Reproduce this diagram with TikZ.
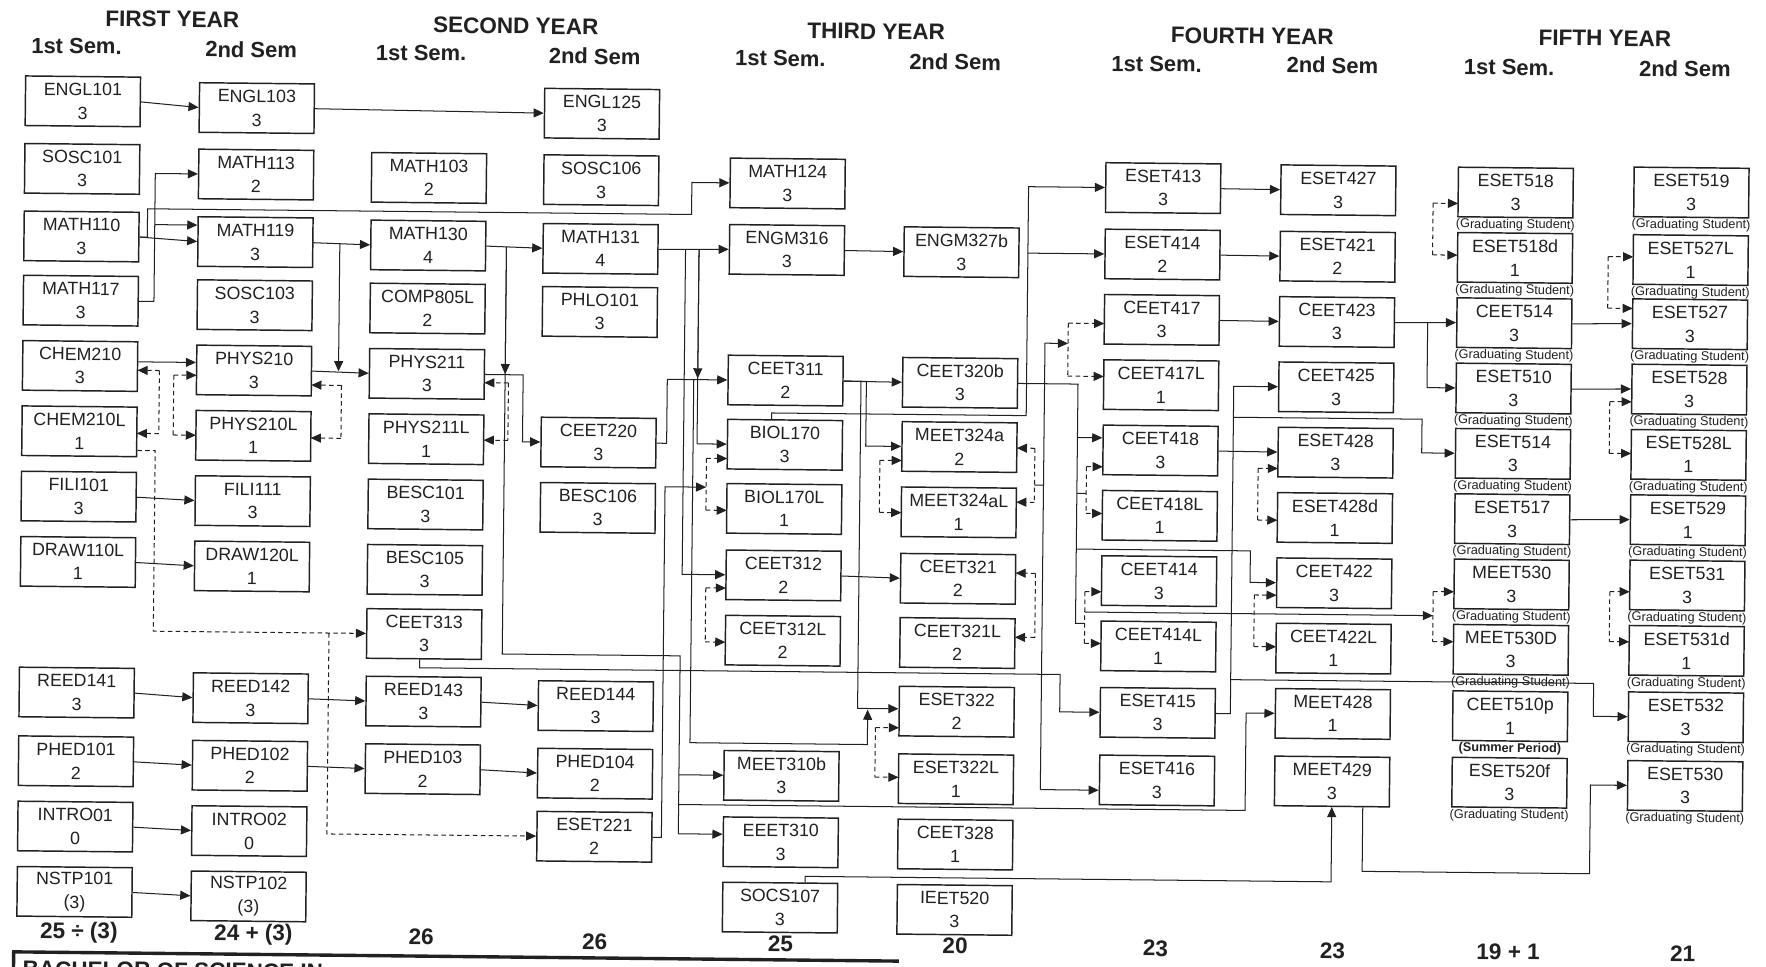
\documentclass[tikz,border=0pt]{standalone}
\usepackage{fontspec}
\setmainfont{Liberation Sans}
\usetikzlibrary{arrows.meta}
\definecolor{ink}{gray}{0.13}
\newcommand\brk[4]{%
  \draw[dln] (#1,#2) -- (#1,#3);
  \draw[darr] (#1,#2) -- (#4,#2);
  \draw[darr] (#1,#3) -- (#4,#3);}
\newcommand\crs[4]{\node[crsbox] (#1) at (#2,#3) {#1\\#4};}
\newcommand\crsg[5]{\node[crsbox] (#1) at (#2,#3) {#1\\#4};
  \node[sublbl] (#1-s) at (#2,#3+29) {#5};}
\begin{document}
\begin{tikzpicture}[x=1pt,y=-1pt,
  crsbox/.style={draw=ink, line width=1.3pt, minimum width=102pt, minimum height=44pt, inner sep=0pt, align=center, text=ink, font=\fontsize{15.8}{21}\selectfont},
  sublbl/.style={text=ink, inner sep=0pt, font=\fontsize{11.3}{13}\selectfont},
  sublblb/.style={text=ink, inner sep=0pt, font=\fontsize{11.3}{13}\selectfont\bfseries},
  yr/.style={text=ink, inner sep=0pt, font=\fontsize{20}{24}\selectfont\bfseries},
  sem/.style={text=ink, inner sep=0pt, font=\fontsize{19.5}{23}\selectfont\bfseries},
  tot/.style={text=ink, inner sep=0pt, font=\fontsize{20}{24}\selectfont\bfseries},
  ln/.style={draw=ink, line width=0.9pt},
  arr/.style={ln, -{Triangle[length=9pt,width=8pt]}},
  dln/.style={ln, dash pattern=on 4pt off 3pt},
  darr/.style={arr, dash pattern=on 4pt off 3pt}]
\useasboundingbox (0,0) rectangle (1568,858);
\clip (0,0) rectangle (1568,858);
\fill[white] (0,0) rectangle (1568,858);
\begin{scope}[rotate=-0.6, transform shape]
% headers
\node[yr] (hy1) at (153.2,15.4) {FIRST YEAR};
\node[sem] (h11) at (68.4,40.3) {1st Sem.};
\node[sem] (h12) at (223.5,41.7) {2nd Sem};
\node[yr] (hy2) at (458.2,18.2) {SECOND YEAR};
\node[sem] (h21) at (374.5,43.1) {1st Sem.};
\node[sem] (h22) at (528.5,44.5) {2nd Sem};
\node[yr] (hy3) at (778.3,19.8) {THIRD YEAR};
\node[sem] (h31) at (693.5,44.7) {1st Sem.};
\node[sem] (h32) at (848.6,46.1) {2nd Sem};
\node[yr] (hy4) at (1112.3,20.3) {FOURTH YEAR};
\node[sem] (h41) at (1027.6,46.2) {1st Sem.};
\node[sem] (h42) at (1183.6,45.6) {2nd Sem};
\node[yr] (hy5) at (1425.4,19) {FIFTH YEAR};
\node[sem] (h51) at (1340.6,45.9) {1st Sem.};
\node[sem] (h52) at (1496.6,45.3) {2nd Sem};
% column 1
\crs{ENGL101}{74.5}{89.2}{3}
\crs{SOSC101}{74.5}{149.2}{3}
\crs{MATH110}{74.5}{209.2}{3}
\crs{MATH117}{74.5}{266.2}{3}
\crs{CHEM210}{74.5}{324.2}{3}
\crs{CHEM210L}{74.5}{382.2}{1}
\crs{FILI101}{74.5}{440.2}{3}
\crs{DRAW110L}{74.5}{498.2}{1}
\crs{REED141}{74.5}{614.2}{3}
\crs{PHED101}{74.5}{675.2}{2}
\crs{INTRO01}{74.5}{733.2}{0}
\crs{NSTP101}{74.5}{791.2}{(3)}
% column 2
\crs{ENGL103}{229}{93.6}{3}
\crs{MATH113}{229}{152.6}{2}
\crs{MATH119}{229}{212.6}{3}
\crs{SOSC103}{229}{268.6}{3}
\crs{PHYS210}{229}{326.6}{3}
\crs{PHYS210L}{229}{384.6}{1}
\crs{FILI111}{229}{442.6}{3}
\crs{DRAW120L}{229}{500.6}{1}
\crs{REED142}{229}{617.6}{3}
\crs{PHED102}{229}{677.6}{2}
\crs{INTRO02}{229}{735.6}{0}
\crs{NSTP102}{229}{793.6}{(3)}
% column 3
\crs{MATH103}{382.5}{154}{2}
\crs{MATH130}{382.5}{214}{4}
\crs{COMP805L}{382.5}{270}{2}
\crs{PHYS211}{382.5}{328}{3}
\crs{PHYS211L}{382.5}{386}{1}
\crs{BESC101}{382.5}{444}{3}
\crs{BESC105}{382.5}{502}{3}
\crs{CEET313}{382.5}{559}{3}
\crs{REED143}{382.5}{619}{3}
\crs{PHED103}{382.5}{679}{2}
% column 4
\crs{ENGL125}{535.5}{95.4}{3}
\crs{SOSC106}{535.5}{154.4}{3}
\crs{MATH131}{535.5}{215.4}{4}
\crs{PHLO101}{535.5}{271.4}{3}
\crs{CEET220}{535.5}{387.4}{3}
\crs{BESC106}{535.5}{445.4}{3}
\crs{REED144}{535.5}{621.4}{3}
\crs{PHED104}{535.5}{681.4}{2}
\crs{ESET221}{535.5}{737.4}{2}
% column 5
\crs{MATH124}{701}{155.6}{3}
\crs{ENGM316}{701}{214.6}{3}
\crs{CEET311}{701}{330.6}{2}
\crs{BIOL170}{701}{387.6}{3}
\crs{BIOL170L}{701}{444.6}{1}
\crs{CEET312}{701}{503.6}{2}
\crs{CEET312L}{701}{561.6}{2}
\crs{MEET310b}{701}{681.6}{3}
\crs{EEET310}{701}{740.6}{3}
\crs{SOCS107}{701}{798.6}{3}
% column 6
\crs{ENGM327b}{856}{215}{3}
\crs{CEET320b}{856}{331}{3}
\crs{MEET324a}{856}{388}{2}
\crs{MEET324aL}{856}{446}{1}
\crs{CEET321}{856}{505}{2}
\crs{CEET321L}{856}{562}{2}
\crs{ESET322}{856}{623}{2}
\crs{ESET322L}{856}{683}{1}
\crs{CEET328}{856}{741}{1}
\crs{IEET520}{856}{799}{3}
% column 7
\crs{ESET413}{1034.5}{156.2}{3}
\crs{ESET414}{1034.5}{215.2}{2}
\crs{CEET417}{1034.5}{273.2}{3}
\crs{CEET417L}{1034.5}{331.2}{1}
\crs{CEET418}{1034.5}{389.2}{3}
\crs{CEET418L}{1034.5}{447.2}{1}
\crs{CEET414}{1034.5}{505.2}{3}
\crs{CEET414L}{1034.5}{563.2}{1}
\crs{ESET415}{1034.5}{622.2}{3}
\crs{ESET416}{1034.5}{682.2}{3}
% column 8
\crs{ESET427}{1190}{156.5}{3}
\crs{ESET421}{1190}{215.5}{2}
\crs{CEET423}{1190}{273.5}{3}
\crs{CEET425}{1190}{331.5}{3}
\crs{ESET428}{1190}{389.5}{3}
\crs{ESET428d}{1190}{447.5}{1}
\crs{CEET422}{1190}{505.5}{3}
\crs{CEET422L}{1190}{563.5}{1}
\crs{MEET428}{1190}{621.5}{1}
\crs{MEET429}{1190}{681.5}{3}
% column 9
\crsg{ESET518}{1347.5}{156.9}{3}{(Graduating Student)}
\crsg{ESET518d}{1347.5}{214.9}{1}{(Graduating Student)}
\crsg{CEET514}{1347.5}{272.9}{3}{(Graduating Student)}
\crsg{ESET510}{1347.5}{330.9}{3}{(Graduating Student)}
\crsg{ESET514}{1347.5}{388.9}{3}{(Graduating Student)}
\crsg{ESET517}{1347.5}{446.9}{3}{(Graduating Student)}
\crsg{MEET530}{1347.5}{504.9}{3}{(Graduating Student)}
\crsg{MEET530D}{1347.5}{562.9}{3}{(Graduating Student)}
\crs{CEET510p}{1347.5}{621.9}{1}
\node[sublblb] (CEET510p-s) at (1347.5,650.9) {(Summer Period)};
\crsg{ESET520f}{1347.5}{680.9}{3}{(Graduating Student)}
% column 10
\crsg{ESET519}{1503.5}{155.2}{3}{(Graduating Student)}
\crsg{ESET527L}{1503.5}{215.2}{1}{(Graduating Student)}
\crsg{ESET527}{1503.5}{272.2}{3}{(Graduating Student)}
\crsg{ESET528}{1503.5}{330.2}{3}{(Graduating Student)}
\crsg{ESET528L}{1503.5}{388.2}{1}{(Graduating Student)}
\crsg{ESET529}{1503.5}{446.2}{1}{(Graduating Student)}
\crsg{ESET531}{1503.5}{504.2}{3}{(Graduating Student)}
\crsg{ESET531d}{1503.5}{562.2}{1}{(Graduating Student)}
\crsg{ESET532}{1503.5}{621.2}{3}{(Graduating Student)}
\crsg{ESET530}{1503.5}{682.2}{3}{(Graduating Student)}
% totals
\node[tot] (t1) at (78.7,827.3) {25 ÷ (3)};
\node[tot] (t2) at (233.7,827.6) {24 + (3)};
\node[tot] (t3) at (382.7,828) {26};
\node[tot] (t4) at (536.8,830.5) {26};
\node[tot] (t5) at (701.8,830.7) {25};
\node[tot] (t6) at (856.8,831.1) {20};
\node[tot] (t7) at (1034.8,831.2) {23};
\node[tot] (t8) at (1191.9,831.6) {23};
\node[tot] (t9) at (1347.9,830.9) {19 + 1};
\node[tot] (t10) at (1502.9,831.3) {21};
% bottom title band (cut by the page edge, as in the scan)
\draw[ink, line width=3pt] (21,905) -- (21,845) -- (807,845);
\node[anchor=base west, text=ink, inner sep=0pt, font=\fontsize{20}{24}\selectfont\bfseries] (title) at (29,867) {BACHELOR OF SCIENCE IN};
% ---------------- connectors ----------------
% first year
\draw[arr] (ENGL101.east) -- (ENGL103.west);
\draw[arr] (ENGL103.east) -- (ENGL125.west);
\draw[arr] (MATH110.east) -- (MATH119.west);
\draw[arr] (MATH110.east) -- (133,209.2) -- (133,184) -- (616,184) -- (616,155.6) -- (MATH124.west);
\draw[arr] (MATH117.east) -- (139.5,266.2) -- (139.5,152.6) -- (MATH113.west);
\draw[arr] (139.5,198) -- ([yshift=14.6pt]MATH119.west);
\draw[arr] ([yshift=4.2pt]CHEM210.east) -- ([yshift=6.6pt]PHYS210.west);
\draw[arr] (FILI101.east) -- (FILI111.west);
\draw[arr] (DRAW110L.east) -- (DRAW120L.west);
\draw[arr] (REED141.east) -- (REED142.west);
\draw[arr] (PHED101.east) -- (PHED102.west);
\draw[arr] (INTRO01.east) -- (INTRO02.west);
\draw[arr] (NSTP101.east) -- (NSTP102.west);
\brk{145}{327.5}{383.5}{125.5}
\brk{157.8}{331.4}{384.6}{178}
\draw[darr] ([yshift=-16.5pt]CHEM210L.east) -- (142,398.7) -- (142,559) -- (CEET313.west);
\draw[darr] (298,559) -- (298,737.4) -- (ESET221.west);
% second year
\draw[arr] (MATH119.east) -- (MATH130.west);
\draw[arr] (304,213.3) -- (304,326.5);
\draw[arr] (PHYS210.east) -- (PHYS211.west);
\brk{306.8}{339}{386}{280}
\draw[arr] (REED142.east) -- (REED143.west);
\draw[arr] (PHED102.east) -- (PHED103.west);
\draw[arr] (REED143.east) -- (REED144.west);
\draw[arr] (PHED103.east) -- (PHED104.west);
\draw[arr] (MATH130.east) -- (MATH131.west);
\draw[ln] (452,214.4) -- (452,576) -- (610,576) -- (610,734);
\draw[arr] (452,214.4) -- (452,327.5);
\draw[arr] (610,681.6) -- (MEET310b.west);
\draw[arr] (610,734) -- ([yshift=6.6pt]EEET310.west);
\draw[arr] (610,708) -- (1113,708) -- (1113,621.5) -- (MEET428.west);
\draw[arr] (PHYS211.east) -- (468,328) -- (468,387.4) -- (CEET220.west);
\brk{455}{335.3}{386.3}{433.5}
\draw[arr] (CEET220.east) -- (596,387.4) -- (596,330.6) -- (CEET311.west);
\draw[arr] (ESET221.east) -- (595,737.4) -- (595,426) -- (631.5,426);
\draw[arr] (MATH131.east) -- (ENGM316.west);
\draw[arr] (611,215) -- (611,503.6) -- (CEET312.west);
\draw[ln] (623,215) -- (623,387.6);
\draw[arr] (623,215) -- (623,329.5);
\draw[arr] (623,387.6) -- (BIOL170.west);
\draw[arr] ([xshift=-3.7pt]CEET313.south) -- (378.8,589) -- (947.5,589) -- (947.5,622.2) -- (ESET415.west);
% third year
\brk{631.5}{400.4}{446.4}{650}
\brk{632.1}{515.4}{563.4}{650}
\draw[arr] (619.5,330.6) -- (619.5,653) -- (777,653) -- (777,622);
\draw[arr] (ENGM316.east) -- (ENGM327b.west);
\draw[arr] (CEET311.east) -- (CEET320b.west);
\draw[arr] (CEET311.east) -- (772.8,330.6) -- (772.8,388) -- (MEET324a.west);
\draw[arr] (CEET311.east) -- (768,330.6) -- (768,621) -- ([yshift=2pt]ESET322.west);
\draw[arr] (CEET312.east) -- (CEET321.west);
\brk{785.5}{400.5}{446.8}{805}
\brk{923}{388.4}{436.4}{907}
\brk{924.7}{499.4}{556.4}{907}
\brk{784}{637.8}{681.8}{805}
\draw[arr] ([xshift=-12pt]BIOL170.north) -- (689,359.5) -- (915,359.5) -- (915,156.2) -- (ESET413.west);
\draw[arr] (915,215.2) -- (ESET414.west);
\draw[ln] (CEET320b.east) -- (960.7,331) -- (960.7,543.4) -- (968.8,543.4);
\draw[arr] (960.7,378.5) -- ([yshift=10.7pt]CEET418.west);
\draw[ln] (960.7,428) -- (969,428);
\draw[arr] (960.7,477.5) -- (1115.3,477.5) -- (1115.3,505.5) -- (CEET422.west);
\draw[arr] (968.8,533.3) -- (1278,533.3);
\draw[ln] (923,421) -- (931,421);
\draw[ln] (931,295) -- (931,691.4);
\draw[arr] (931,295) -- (951.5,295);
\draw[arr] (931,691.4) -- ([yshift=-9.2pt]ESET416.west);
\draw[arr] ([xshift=22pt]SOCS107.north) -- (723,770.6) -- (1190,770.6) -- (MEET429.south);
% fourth year
\brk{951.5}{277}{324}{983.5}
\brk{969}{404.2}{445.7}{983.5}
\brk{968.8}{515.2}{561.1}{983.5}
\draw[arr] (ESET413.east) -- (ESET427.west);
\draw[arr] (ESET414.east) -- (ESET421.west);
\draw[arr] (CEET417.east) -- (CEET423.west);
\draw[arr] (CEET418.east) -- (ESET428.west);
\draw[arr] (ESET415.east) -- (1099,622.2) -- (1099,331.5) -- (CEET425.west);
\draw[arr] (1099,359) -- (1266.5,359) -- (1266.5,388.9) -- (ESET514.west);
\draw[arr] (1099,592) -- (1421.3,592) -- (1421.3,621.2) -- (ESET532.west);
\brk{1121.4}{404.1}{450}{1139}
\brk{1119.2}{516.6}{562.4}{1139}
\draw[arr] (CEET423.east) -- (CEET514.west);
\draw[arr] (1270.6,273.3) -- (1270.6,330.9) -- (ESET510.west);
\draw[arr] ([xshift=27.5pt]MEET429.south) -- (1217.5,761) -- (1419.4,761) -- (1419.4,682.2) -- (ESET530.west);
% fifth year
\brk{1274.3}{167.1}{213}{1296.5}
\brk{1278}{511.9}{556.3}{1296.5}
\brk{1430.3}{212.9}{258.7}{1452.5}
\brk{1433}{341.6}{387.5}{1452.5}
\brk{1434.8}{510.3}{554.7}{1452.5}
\draw[arr] (CEET514.east) -- (ESET527.west);
\draw[arr] (ESET510.east) -- (ESET528.west);
\draw[arr] (ESET517.east) -- (ESET529.west);
\end{scope}
\end{tikzpicture}
\end{document}
